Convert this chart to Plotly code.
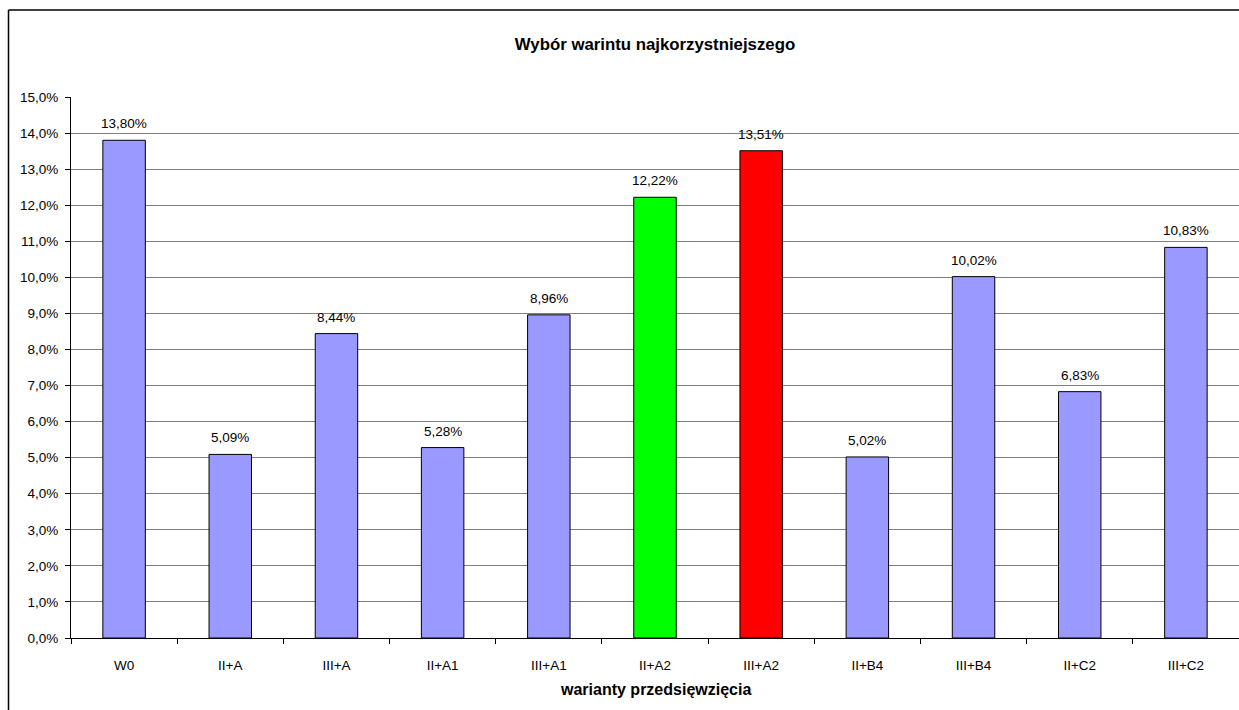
import plotly.graph_objects as go

categories = ["W0", "II+A", "III+A", "II+A1", "III+A1", "II+A2", "III+A2", "II+B4", "III+B4", "II+C2", "III+C2"]
values = [0.1380, 0.0509, 0.0844, 0.0528, 0.0896, 0.1222, 0.1351, 0.0502, 0.1002, 0.0683, 0.1083]
labels = ["13,80%", "5,09%", "8,44%", "5,28%", "8,96%", "12,22%", "13,51%", "5,02%", "10,02%", "6,83%", "10,83%"]
colors = ["#9999FF", "#9999FF", "#9999FF", "#9999FF", "#9999FF", "#00FF00", "#FF0000",
          "#9999FF", "#9999FF", "#9999FF", "#9999FF"]
y_ticks = [i / 100 for i in range(0, 16)]

W, H = 1239, 710
L, R, T, B = 71, 0, 97, 72
ph = H - T - B
pw = W - L - R
FONT = "Liberation Sans, Arial"

fig = go.Figure(go.Bar(
    x=categories, y=values,
    marker=dict(color=colors, line=dict(color="#000000", width=1)),
    cliponaxis=False,
))

for c, v, t in zip(categories, values, labels):
    fig.add_annotation(x=c, y=v, text=t, showarrow=False, xanchor="center", yanchor="bottom",
                       yshift=7, font=dict(family=FONT, size=13.5, color="#000000"))

fig.update_layout(
    width=W, height=H,
    margin=dict(l=L, r=R, t=T, b=B),
    paper_bgcolor="white", plot_bgcolor="white",
    separators=", ",
    bargap=0.6,
    showlegend=False,
    font=dict(family=FONT, size=13.5, color="#000000"),
    title=dict(text="<b>Wybór warintu najkorzystniejszego</b>", x=(L + pw / 2) / W, xanchor="center",
               y=1 - 44 / H, yanchor="middle", yref="container",
               font=dict(family=FONT, size=16.8, color="#000000")),
)

fig.update_yaxes(
    range=[0, 0.15], tickvals=y_ticks, tickformat=".1%",
    showgrid=True, gridcolor="#7f7f7f", gridwidth=1.3,
    showline=True, linecolor="#000000", linewidth=1,
    ticks="outside", ticklen=5, tickcolor="#000000",
    zeroline=False, fixedrange=True,
    ticklabelstandoff=4,
    tickfont=dict(size=13.5),
)
fig.update_xaxes(
    type="category", tickson="boundaries",
    showline=True, linecolor="#000000", linewidth=1,
    ticks="outside", ticklen=5, tickcolor="#000000",
    showgrid=False, tickfont=dict(size=13.5),
    ticklabelstandoff=15,
)

fig.add_annotation(text="<b>warianty przedsięwzięcia</b>", xref="paper", yref="paper",
                   x=0.5, y=(638 - 689) / ph, xanchor="center", yanchor="middle",
                   showarrow=False, font=dict(family=FONT, size=16, color="#000000"))

y_top = 1 + (T - 10) / ph
x_left = (8.5 - L) / pw
fig.add_shape(type="line", xref="paper", yref="paper", x0=x_left, x1=1.0, y0=y_top, y1=y_top,
              line=dict(color="#000000", width=1.5))
fig.add_shape(type="line", xref="paper", yref="paper", x0=x_left, x1=x_left, y0=y_top, y1=-B / ph,
              line=dict(color="#000000", width=1.5))

fig.write_html("out.html")
